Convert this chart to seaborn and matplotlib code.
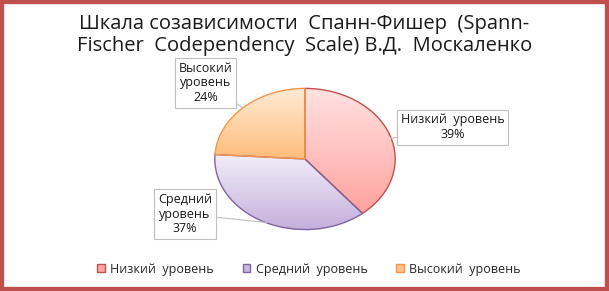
import numpy as np
import matplotlib
matplotlib.use("Agg")
import matplotlib.pyplot as plt
import seaborn as sns
from matplotlib.patches import Rectangle
from matplotlib.colors import LinearSegmentedColormap

sns.set_theme(style="white")
plt.rcParams['font.family'] = ['Open Sans', 'DejaVu Sans']

categories = ["Низкий уровень", "Средний уровень", "Высокий уровень"]
label_lines = ["Низкий  уровень\n39%", "Средний\nуровень\n37%", "Высокий\nуровень\n24%"]
values = [39, 37, 24]
legend_labels = ["Низкий  уровень", "Средний  уровень", "Высокий  уровень"]
title = "Шкала созависимости  Спанн-Фишер  (Spann-\nFischer  Codependency  Scale) В.Д.  Москаленко"

top_colors = ["#FFE2E2", "#F2EEF8", "#FFEBD6"]
bottom_colors = ["#FFA29E", "#C4AFDD", "#FFBC7A"]
edge_colors = ["#C0504D", "#8064A2", "#F79646"]
legend_face = ["#F4A8A6", "#C9B9E0", "#FFC28A"]

W, H = 609, 291
fig = plt.figure(figsize=(W / 100, H / 100), dpi=100)
cx, cy, rx, ry = 305, 159, 92, 72
ax = fig.add_axes([(cx - rx) / W, (H - cy - ry) / H, 2 * rx / W, 2 * ry / H])

wedges, _ = ax.pie(values, startangle=90, counterclock=False, radius=1,
                   colors=bottom_colors,
                   wedgeprops=dict(linewidth=1.0))
ax.set_aspect('auto')

grad = np.linspace(0, 1, 256).reshape(-1, 1)
for w, tc, bc, ec in zip(wedges, top_colors, bottom_colors, edge_colors):
    w.set_edgecolor(ec)
    w.set_facecolor('none')
    w.set_zorder(3)
    cmap = LinearSegmentedColormap.from_list('g', [tc, bc])
    ext = w.get_path().get_extents()
    im = ax.imshow(grad, cmap=cmap, aspect='auto', origin='upper',
                   extent=[ext.x0, ext.x1, ext.y0, ext.y1], zorder=2)
    im.set_clip_path(w)
ax.set_xlim(-1.02, 1.02)
ax.set_ylim(-1.02, 1.02)
ax.axis('off')

# data labels (box centres and leader anchors in pie units)
label_pos = [(1.64, 0.45), (-1.33, -0.78), (-1.10, 1.08)]
anchor = [(0.946, 0.29), (-0.42, -0.90), (-0.685, 0.72)]
for txt, pos, anc in zip(label_lines, label_pos, anchor):
    ax.annotate(txt, xy=anc, xytext=pos, ha='center', va='center',
                fontsize=9, color='#1a1a1a', linespacing=1.15,
                annotation_clip=False, zorder=5,
                bbox=dict(boxstyle='square,pad=0.3', fc='white', ec='#BFBFBF', lw=0.8),
                arrowprops=dict(arrowstyle='-', color='#BFBFBF', lw=0.8,
                                shrinkA=0, shrinkB=0))

fig.text(0.5, 1 - 35 / H, title, ha='center', va='center', fontsize=14.5,
         color='#1a1a1a', linespacing=1.2)

handles = [plt.Rectangle((0, 0), 1, 1, fc=fc, ec=ec, lw=1.0)
           for fc, ec in zip(legend_face, edge_colors)]
fig.legend(handles, legend_labels, loc='center', bbox_to_anchor=(309 / W, 1 - 269 / H),
           ncol=3, frameon=False, fontsize=9, handlelength=0.6, handleheight=0.6,
           handletextpad=0.45, columnspacing=2.3)

fig.patches.append(Rectangle((0, 0), 1, 1, transform=fig.transFigure, fill=False,
                             edgecolor='#C0504D', linewidth=6, zorder=10))

fig.savefig('out.png', dpi=100)
